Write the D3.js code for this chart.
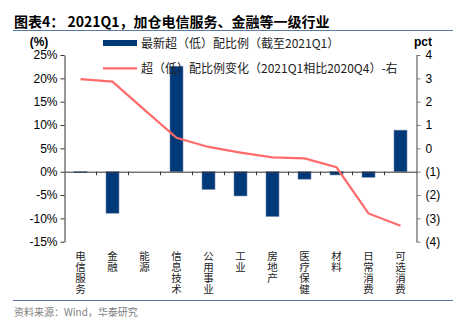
<!DOCTYPE html>
<html><head><meta charset="utf-8">
<script src="https://cdn.jsdelivr.net/npm/d3@7"></script>
<style>
html,body{margin:0;padding:0;background:#fff;}
svg{display:block;}
</style></head>
<body>
<svg id="c" width="464" height="327"></svg>
<script>
const categories = ["电信服务","金融","能源","信息技术","公用事业","工业","房地产","医疗保健","材料","日常消费","可选消费"];
const barValues = [-0.2, -8.9, 0, 22.6, -3.8, -5.2, -9.6, -1.6, -0.7, -1.2, 8.9];
const lineValues = [2.97, 2.86, 1.65, 0.45, 0.06, -0.18, -0.39, -0.43, -0.81, -2.79, -3.32];
const leftTicks = [-15, -10, -5, 0, 5, 10, 15, 20, 25];
const rightTicks = [-4, -3, -2, -1, 0, 1, 2, 3, 4];
const titleText = "图表4： 2021Q1，加仓电信服务、金融等一级行业";
const legendBar = "最新超（低）配比例（截至2021Q1）";
const legendLine = "超（低）配比例变化（2021Q1相比2020Q4）-右";
const sourceText = "资料来源：Wind，华泰研究";

(function () {
const svg = d3.select("#c");
const cjk = "'Noto Sans CJK SC', sans-serif";
const lat = "'Liberation Sans', Arial, sans-serif";
const pLeft = 64.5, pRight = 416.5, pTop = 55, pBottom = 241.7;

const x = d3.scaleBand().domain(categories).range([pLeft, pRight]).padding(0);
const yL = d3.scaleLinear().domain([-15, 25]).range([pBottom, pTop]);
const yR = d3.scaleLinear().domain([-4, 4]).range([pBottom, pTop]);

// title
svg.append("text").attr("x", 14).attr("y", 26.5).text(titleText)
  .attr("font-family", cjk).attr("font-weight", "bold").attr("font-size", 14).attr("fill", "#000");
// separators
svg.append("line").attr("x1", 13).attr("x2", 453).attr("y1", 30.5).attr("y2", 30.5).attr("stroke", "#5a7aa8").attr("stroke-width", 1);
svg.append("line").attr("x1", 13).attr("x2", 453).attr("y1", 300.5).attr("y2", 300.5).attr("stroke", "#5a7aa8").attr("stroke-width", 1);
svg.append("text").attr("x", 14).attr("y", 316).text(sourceText)
  .attr("font-family", cjk).attr("font-size", 10).attr("fill", "#808080");

// bars
svg.append("g").selectAll("rect").data(categories).join("rect")
  .attr("x", (d) => x(d) + x.bandwidth() / 2 - 6.5)
  .attr("width", 13)
  .attr("y", (d, i) => yL(Math.max(0, barValues[i])))
  .attr("height", (d, i) => Math.abs(yL(barValues[i]) - yL(0)))
  .attr("fill", "#003878").attr("stroke", "#7088b0").attr("stroke-width", 0.6);

// left axis
const gL = svg.append("g").attr("transform", `translate(${pLeft},0)`)
  .call(d3.axisLeft(yL).tickValues(leftTicks).tickSize(4).tickSizeOuter(0).tickFormat(d => d + "%"));
gL.select(".domain").attr("stroke", "#333");
gL.selectAll(".tick line").attr("stroke", "#333");
gL.selectAll("text").attr("font-family", lat).attr("font-size", 12).attr("fill", "#000").attr("x", -7);

// right axis
const gR = svg.append("g").attr("transform", `translate(${pRight},0)`)
  .call(d3.axisRight(yR).tickValues(rightTicks).tickSize(4).tickSizeOuter(0)
    .tickFormat(d => d < 0 ? "(" + Math.abs(d) + ")" : d));
gR.select(".domain").attr("stroke", "#7f7f7f").attr("stroke-width", 1.5);
gR.selectAll(".tick line").attr("stroke", "#7f7f7f");
gR.selectAll("text").attr("font-family", lat).attr("font-size", 12).attr("fill", "#000").attr("x", 9);

// zero axis with category ticks
const gX = svg.append("g").attr("transform", `translate(0,${yL(0)})`)
  .call(d3.axisBottom(x).tickSize(0).tickFormat(""));
gX.select(".domain").attr("stroke", "#333");
svg.append("g").selectAll("line").data(categories.slice(1)).join("line")
  .attr("x1", d => x(d)).attr("x2", d => x(d))
  .attr("y1", yL(0)).attr("y2", yL(0) + 3.5).attr("stroke", "#333");

// line series
const line = d3.line().x((d, i) => x(categories[i]) + x.bandwidth() / 2).y(d => yR(d));
svg.append("path").datum(lineValues).attr("d", line)
  .attr("fill", "none").attr("stroke", "#ff6a6a").attr("stroke-width", 2.2);

// axis titles
svg.append("text").attr("x", 39).attr("y", 46).attr("text-anchor", "middle").text("(%)")
  .attr("font-family", lat).attr("font-size", 12).attr("font-weight", "bold").attr("fill", "#000");
svg.append("text").attr("x", 423).attr("y", 46).attr("text-anchor", "middle").text("pct")
  .attr("font-family", lat).attr("font-size", 12).attr("font-weight", "bold").attr("fill", "#000");

// category labels (vertical)
svg.append("g").selectAll("text").data(categories).join("text")
  .attr("x", d => x(d) + x.bandwidth() / 2).attr("y", 251)
  .attr("style", "writing-mode: vertical-rl; text-orientation: upright;")
  .attr("font-family", cjk).attr("font-size", 10.5).attr("letter-spacing", 0.5).attr("fill", "#222")
  .text(d => d);

// legend
svg.append("rect").attr("x", 103).attr("y", 40).attr("width", 34).attr("height", 6).attr("fill", "#003878");
svg.append("text").attr("x", 141).attr("y", 48).text(legendBar)
  .attr("font-family", cjk).attr("font-size", 12).attr("fill", "#222");
svg.append("line").attr("x1", 103).attr("x2", 137).attr("y1", 68.3).attr("y2", 68.3).attr("stroke", "#ff6a6a").attr("stroke-width", 2.2);
svg.append("text").attr("x", 141).attr("y", 72.5).text(legendLine)
  .attr("font-family", cjk).attr("font-size", 12).attr("fill", "#222");
})();
</script>
</body></html>
